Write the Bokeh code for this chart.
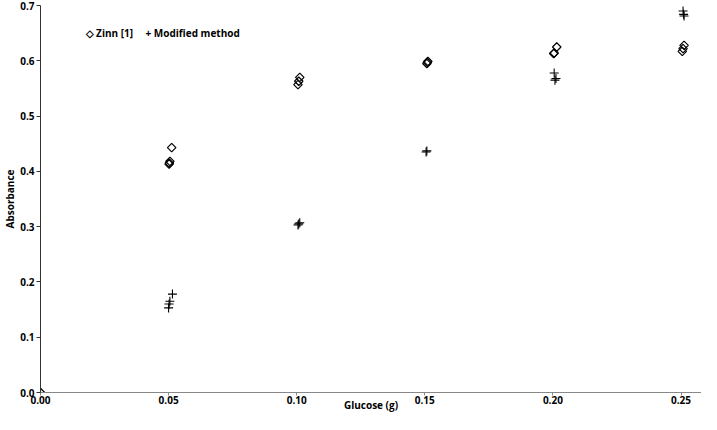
import math
from bokeh.plotting import figure
from bokeh.models import FixedTicker, NumeralTickFormatter, Range1d, Label
from bokeh.embed import file_html
from bokeh.resources import INLINE

zinn_x = [0.0, 0.0512, 0.0505, 0.0503, 0.0502, 0.1012, 0.1008, 0.1005, 0.1512, 0.1510, 0.1508,
          0.2015, 0.2005, 0.2003, 0.2512, 0.2508, 0.2505]
zinn_y = [0.0, 0.443, 0.418, 0.415, 0.413, 0.570, 0.563, 0.557, 0.599, 0.597, 0.595,
          0.625, 0.614, 0.613, 0.628, 0.622, 0.617]
mod_x = [0.0, 0.0515, 0.0505, 0.0502, 0.0500, 0.1012, 0.1008, 0.1005, 0.1508, 0.1505,
         0.2005, 0.2012, 0.2008, 0.2508, 0.2510, 0.2512]
mod_y = [0.0, 0.178, 0.165, 0.160, 0.153, 0.307, 0.305, 0.303, 0.437, 0.435,
         0.578, 0.568, 0.565, 0.690, 0.684, 0.681]
x_ticks = [0.0, 0.05, 0.10, 0.15, 0.20, 0.25]
y_ticks = [0.0, 0.1, 0.2, 0.3, 0.4, 0.5, 0.6, 0.7]
legend_labels = ["\u25c7 Zinn [1]", "+ Modified method"]
x_title = "Glucose (g)"
y_title = "Absorbance"

p = figure(width=701, height=414, output_backend="svg", toolbar_location=None,
           x_range=Range1d(0, 0.258), y_range=Range1d(0, 0.7),
           min_border_left=34, min_border_right=0, min_border_top=5, min_border_bottom=0)
p.outline_line_color = None
p.xgrid.visible = False
p.ygrid.visible = False

p.scatter(zinn_x, zinn_y, marker="square", angle=math.pi / 4, size=6,
          fill_color=None, line_color="black", line_width=1.2)
p.scatter(mod_x, mod_y, marker="cross", size=9, line_color="black", line_width=1.1)

font = "Open Sans"
p.xaxis.ticker = FixedTicker(ticks=x_ticks)
p.yaxis.ticker = FixedTicker(ticks=y_ticks)
p.xaxis.formatter = NumeralTickFormatter(format="0.00")
p.yaxis.formatter = NumeralTickFormatter(format="0.0")
p.xaxis.axis_label = x_title
p.yaxis.axis_label = y_title
for ax in (p.xaxis, p.yaxis):
    ax.major_label_text_font = font
    ax.major_label_text_font_style = "bold"
    ax.major_label_text_font_size = "10px"
    ax.major_label_text_color = "black"
    ax.axis_label_text_font = font
    ax.axis_label_text_font_style = "bold"
    ax.axis_label_text_font_size = "10px"
    ax.axis_label_text_color = "black"
    ax.minor_tick_line_color = None
p.yaxis.axis_label_standoff = 0
p.yaxis.major_label_standoff = 2
p.xaxis.major_label_standoff = 0
p.xaxis.axis_label_standoff = -9
p.xaxis.axis_line_color = "#888888"
p.xaxis.major_tick_line_color = "#888888"
p.xaxis.major_tick_in = 0
p.xaxis.major_tick_out = 3
p.yaxis.axis_line_color = "#333333"
p.yaxis.major_tick_line_color = "#333333"
p.yaxis.major_tick_in = 0
p.yaxis.major_tick_out = 4

for lab, xs in zip(legend_labels, [45, 105]):
    p.add_layout(Label(x=xs, y=0.65, x_units="screen", y_units="data", text=lab,
                       text_font=font, text_font_style="bold", text_font_size="10px",
                       text_color="black", text_baseline="middle"))

open("out.html", "w").write(file_html(p, INLINE))
